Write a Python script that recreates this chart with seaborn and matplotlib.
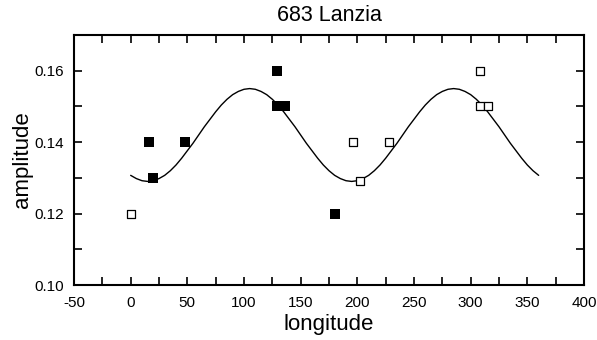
import numpy as np
import pandas as pd
import matplotlib
matplotlib.use("Agg")
import matplotlib.pyplot as plt
from matplotlib.ticker import MultipleLocator, FormatStrFormatter
import seaborn as sns

# filled squares
filled_lon = [16, 20, 48, 129, 129, 136, 180]
filled_amp = [0.140, 0.130, 0.140, 0.160, 0.150, 0.150, 0.120]
# open squares
open_lon = [0, 196, 202, 228, 308, 308, 315]
open_amp = [0.120, 0.140, 0.129, 0.140, 0.160, 0.150, 0.150]
# fitted curve, read every 5 degrees
curve_lon = list(range(0, 361, 5))
curve_amp = [0.1307, 0.1298, 0.1292, 0.1290, 0.1292, 0.1298, 0.1307, 0.1320, 0.1336,
             0.1355, 0.1376, 0.1397, 0.1420, 0.1443, 0.1464, 0.1485, 0.1504, 0.1520,
             0.1533, 0.1542, 0.1548, 0.1550, 0.1548, 0.1542, 0.1533, 0.1520, 0.1504,
             0.1485, 0.1464, 0.1443, 0.1420, 0.1397, 0.1376, 0.1355, 0.1336, 0.1320,
             0.1307, 0.1298, 0.1292, 0.1290, 0.1292, 0.1298, 0.1307, 0.1320, 0.1336,
             0.1355, 0.1376, 0.1397, 0.1420, 0.1443, 0.1464, 0.1485, 0.1504, 0.1520,
             0.1533, 0.1542, 0.1548, 0.1550, 0.1548, 0.1542, 0.1533, 0.1520, 0.1504,
             0.1485, 0.1464, 0.1443, 0.1420, 0.1397, 0.1376, 0.1355, 0.1336, 0.1320,
             0.1307]

sns.set_style("ticks")
plt.rcParams['font.family'] = ['Liberation Sans', 'DejaVu Sans']
plt.rcParams['axes.unicode_minus'] = False
for k in ['axes.edgecolor', 'text.color', 'axes.labelcolor', 'xtick.color', 'ytick.color']:
    plt.rcParams[k] = 'black'

fig = plt.figure(figsize=(5.97, 3.40), dpi=100)
ax = fig.add_axes([74/597, 1-285/340, (584-74)/597, (285-35)/340])

curve_df = pd.DataFrame({"lon": curve_lon, "amp": curve_amp})
sns.lineplot(data=curve_df, x="lon", y="amp", ax=ax, color="black", lw=1.0, sort=False)

fdf = pd.DataFrame({"lon": filled_lon, "amp": filled_amp})
odf = pd.DataFrame({"lon": open_lon, "amp": open_amp})
sns.scatterplot(data=fdf, x="lon", y="amp", ax=ax, marker="s", s=42, color="black",
                edgecolor="black", linewidth=0, zorder=3)
sns.scatterplot(data=odf, x="lon", y="amp", ax=ax, marker="s", s=38, facecolor="white",
                edgecolor="black", linewidth=0.9, zorder=3)

ax.set_xlim(-50, 400)
ax.set_ylim(0.10, 0.17)
ax.xaxis.set_major_locator(MultipleLocator(50))
ax.xaxis.set_minor_locator(MultipleLocator(25))
ax.yaxis.set_major_locator(MultipleLocator(0.02))
ax.yaxis.set_minor_locator(MultipleLocator(0.01))
ax.yaxis.set_major_formatter(FormatStrFormatter('%.2f'))
ax.tick_params(which='both', direction='in', top=True, right=True, length=5.5, width=1.2,
               labelsize=11, color='black', labelcolor='black')
ax.tick_params(axis='y', pad=7)
ax.tick_params(axis='x', pad=8)
for s in ax.spines.values():
    s.set_linewidth(1.5)
    s.set_color('black')
    s.set_visible(True)

ax.set_xlabel("longitude", fontsize=16, labelpad=3, color='black')
ax.set_ylabel("amplitude", fontsize=16, labelpad=1, color='black')
ax.set_title("683 Lanzia", fontsize=15.5, pad=10, color='black')

fig.savefig("out.png", dpi=100)
